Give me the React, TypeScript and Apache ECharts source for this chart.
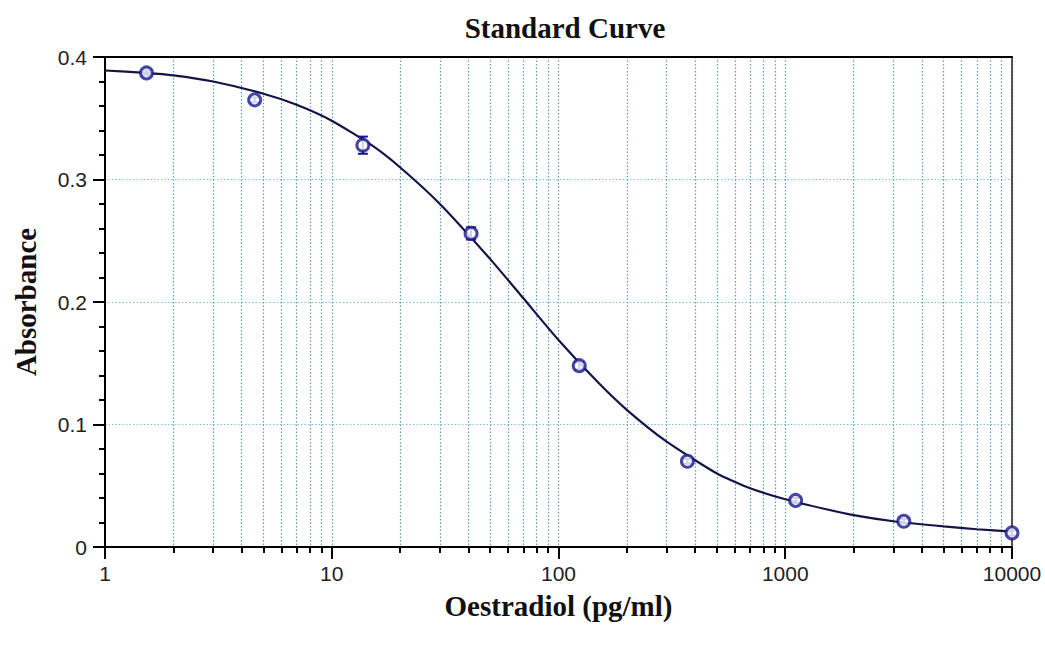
import React, { useEffect, useRef } from "react";
import * as echarts from "echarts";

// Standards (3-fold dilution series)
const concentrations = [1.524, 4.572, 13.717, 41.152, 123.457, 370.37, 1111.11, 3333.33, 10000];
const absorbance = [0.387, 0.365, 0.328, 0.256, 0.148, 0.07, 0.038, 0.021, 0.0115];
const errors = [0.002, 0.002, 0.007, 0.005, 0.003, 0.002, 0.002, 0.002, 0.002];

// Fitted curve
const curveX = [1, 1.5, 2, 3, 5, 7, 10, 15, 20, 30, 50, 70, 100, 150, 200, 300, 500, 700, 1000, 1500, 2000, 3000, 5000, 7000, 10000];
const curveY = [0.389, 0.387, 0.385, 0.38, 0.37, 0.361, 0.348, 0.328, 0.31, 0.28, 0.235, 0.203, 0.169, 0.134, 0.112, 0.086, 0.06, 0.048, 0.039, 0.031, 0.026, 0.021, 0.0168, 0.0145, 0.0125];

const minorTicks = [
  2, 3, 4, 5, 6, 7, 8, 9,
  20, 30, 40, 50, 60, 70, 80, 90,
  200, 300, 400, 500, 600, 700, 800, 900,
  2000, 3000, 4000, 5000, 6000, 7000, 8000, 9000,
];

const titleText = "Standard Curve";
const xName = "Oestradiol (pg/ml)";
const yName = "Absorbance";

const vGridColor = "#5f9db2";
const hGridColor = "#7fc0d6";
const markerColor = "#16168f";
const curveColor = "#141446";
const serif = "'Liberation Serif', 'Times New Roman', serif";
const sans = "'Liberation Sans', Arial, sans-serif";

export default function App() {
  const ref = useRef<HTMLDivElement>(null);
  useEffect(() => {
    if (!ref.current) return;
    const chart = echarts.init(ref.current, undefined, { renderer: "svg" });
    const vGrid = { show: true, lineStyle: { color: vGridColor, type: [1.5, 2], width: 1.2 } };
    const hGrid = { show: true, lineStyle: { color: hGridColor, type: [1.5, 2], width: 1.2 } };
    chart.setOption({
      animation: false,
      backgroundColor: "#ffffff",
      title: {
        text: titleText,
        left: 560,
        top: 8,
        textAlign: "center",
        textStyle: { fontFamily: serif, fontWeight: "bold", fontSize: 29, color: "#111" },
      },
      grid: { left: 105, right: 33, top: 57, bottom: 98, containLabel: false },
      xAxis: [
        {
          type: "log",
          logBase: 10,
          min: 1,
          max: 10000,
          position: "bottom",
          name: xName,
          nameLocation: "middle",
          nameGap: 44,
          nameTextStyle: { fontFamily: serif, fontWeight: "bold", fontSize: 29, color: "#111" },
          axisLine: { show: true, onZero: false, lineStyle: { color: "#000", width: 2 } },
          axisTick: { show: true, length: 12, inside: false, lineStyle: { color: "#000", width: 2 } },
          axisLabel: {
            fontFamily: sans,
            fontSize: 21,
            color: "#222",
            margin: 16,
            formatter: (v: number) => String(Math.round(v)),
          },
          splitLine: vGrid,
          minorTick: { show: false },
        },
        {
          type: "log",
          logBase: 10,
          min: 1,
          max: 10000,
          position: "bottom",
          axisLine: { show: false, onZero: false },
          axisTick: { show: true, length: 6, customValues: minorTicks, lineStyle: { color: "#000", width: 2 } },
          axisLabel: { show: false },
          splitLine: vGrid,
        },
        {
          type: "log",
          logBase: 10,
          min: 1,
          max: 10000,
          position: "top",
          axisLine: { show: true, onZero: false, lineStyle: { color: "#000", width: 2 } },
          axisTick: { show: false },
          axisLabel: { show: false },
          splitLine: { show: false },
        },
      ],
      yAxis: [
        {
          type: "value",
          min: 0,
          max: 0.4,
          interval: 0.1,
          name: yName,
          nameLocation: "middle",
          nameRotate: 90,
          nameGap: 65,
          nameTextStyle: { fontFamily: serif, fontWeight: "bold", fontSize: 29, color: "#111" },
          axisLine: { show: true, onZero: false, lineStyle: { color: "#000", width: 2 } },
          axisTick: { show: true, length: 12, lineStyle: { color: "#000", width: 2 } },
          minorTick: { show: true, splitNumber: 5, length: 6, lineStyle: { color: "#000", width: 2 } },
          axisLabel: { fontFamily: sans, fontSize: 21, color: "#222", margin: 18 },
          splitLine: hGrid,
        },
        {
          type: "value",
          min: 0,
          max: 0.4,
          interval: 0.1,
          position: "right",
          axisLine: { show: true, onZero: false, lineStyle: { color: "#222", width: 1.5 } },
          axisTick: { show: false },
          axisLabel: { show: false },
          splitLine: { show: false },
        },
      ],
      series: [
        {
          type: "line",
          xAxisIndex: 0,
          yAxisIndex: 0,
          data: curveX.map((x, i) => [x, curveY[i]]),
          smooth: 0.2,
          showSymbol: false,
          symbol: "none",
          lineStyle: { color: curveColor, width: 2.2 },
          z: 3,
        },
        {
          type: "custom",
          xAxisIndex: 0,
          yAxisIndex: 0,
          data: concentrations.map((x, i) => [x, absorbance[i], errors[i]]),
          encode: { x: 0, y: 1 },
          renderItem: (params: any, api: any) => {
            const x = api.value(0);
            const y = api.value(1);
            const e = api.value(2);
            const top = api.coord([x, y + e]);
            const bot = api.coord([x, y - e]);
            const w = 5;
            const style = { stroke: markerColor, lineWidth: 2 };
            return {
              type: "group",
              children: [
                { type: "line", shape: { x1: top[0], y1: top[1], x2: bot[0], y2: bot[1] }, style },
                { type: "line", shape: { x1: top[0] - w, y1: top[1], x2: top[0] + w, y2: top[1] }, style },
                { type: "line", shape: { x1: bot[0] - w, y1: bot[1], x2: bot[0] + w, y2: bot[1] }, style },
              ],
            };
          },
          z: 4,
        },
        {
          type: "scatter",
          xAxisIndex: 0,
          yAxisIndex: 0,
          data: concentrations.map((x, i) => [x, absorbance[i]]),
          symbol: "circle",
          symbolSize: 12,
          itemStyle: { color: "#ffffff", borderColor: markerColor, borderWidth: 3 },
          z: 5,
        },
      ],
    });
    return () => chart.dispose();
  }, []);
  return (
    <div
      ref={ref}
      style={{ position: "absolute", left: 0, top: 0, width: 1045, height: 645 }}
    />
  );
}
